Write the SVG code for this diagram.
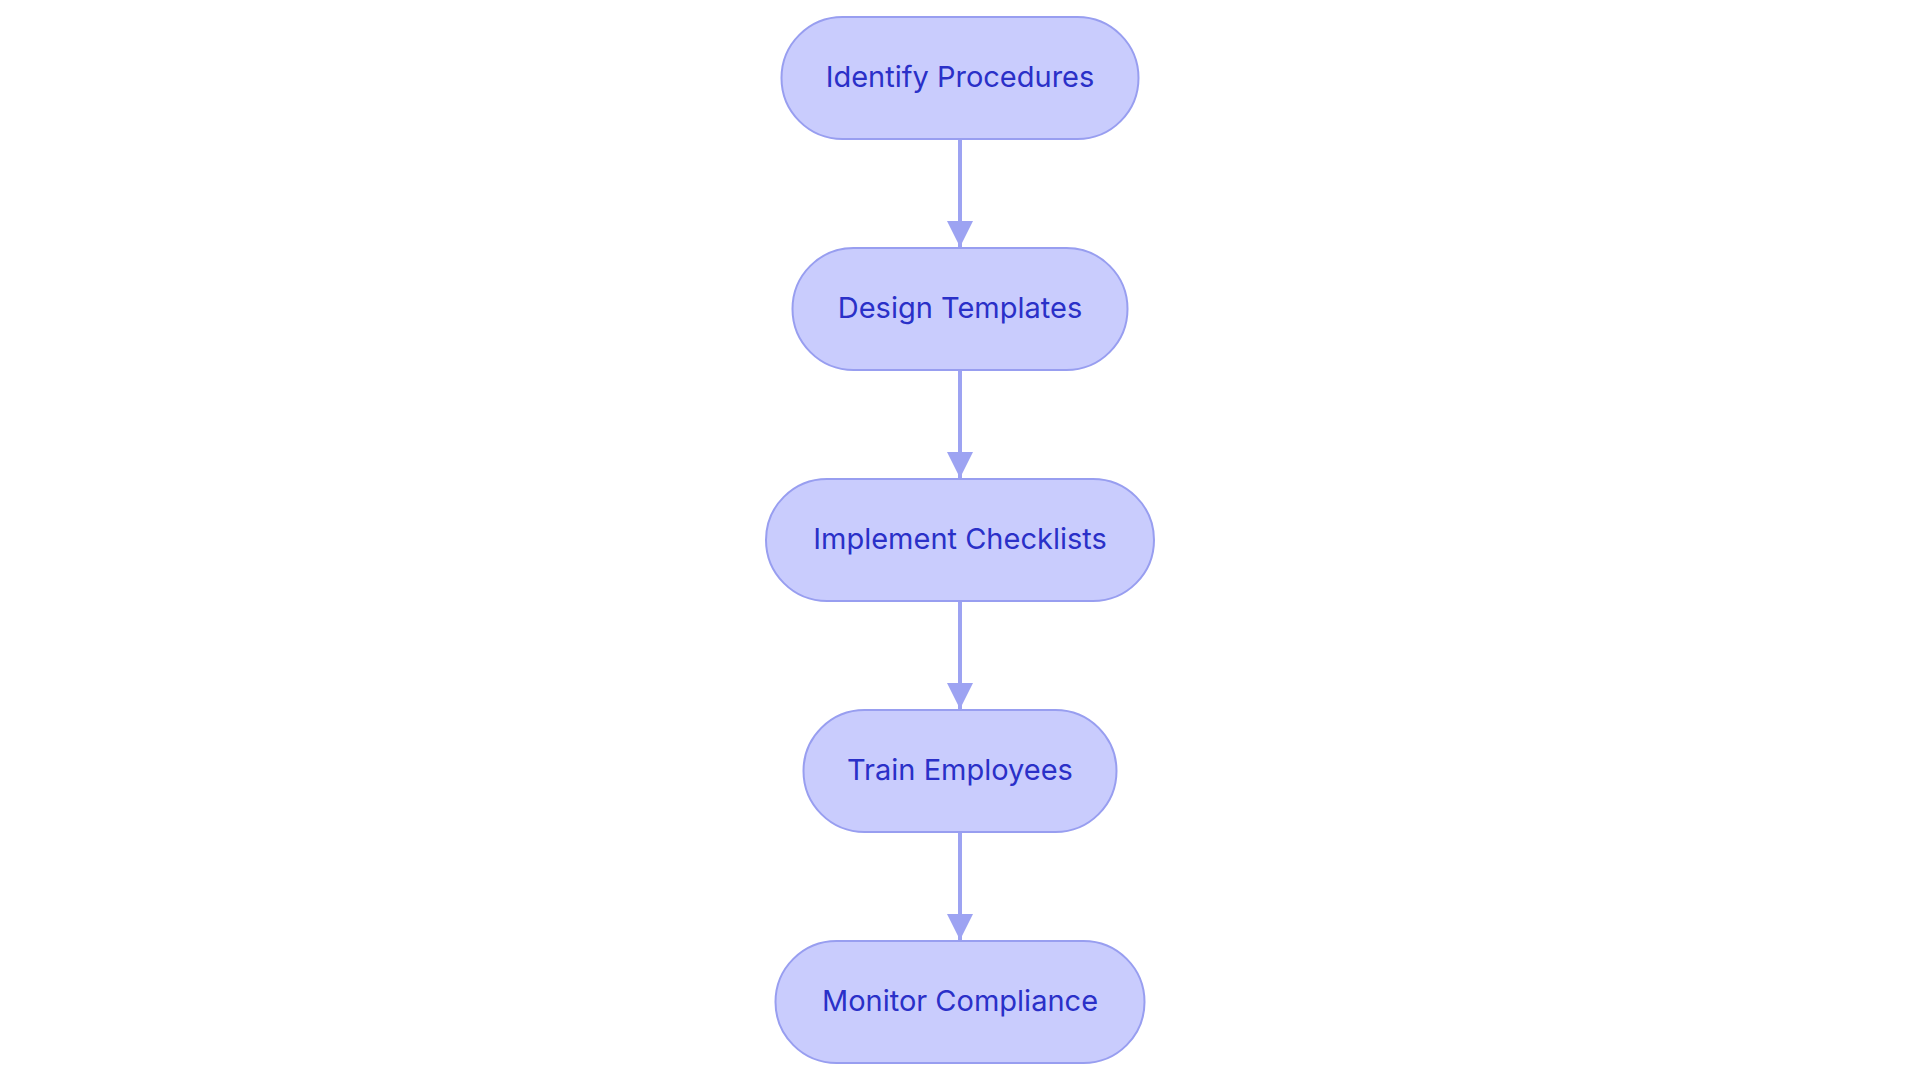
<svg xmlns="http://www.w3.org/2000/svg" width="1920" height="1083" viewBox="0 0 1920 1083">
<style>
.node rect{fill:#C9CCFD;stroke:#989EF0;stroke-width:2}
.node text{font-family:Inter,"Noto Sans","Liberation Sans",sans-serif;font-size:29px;fill:#2A30C8;text-anchor:middle}
.edge{stroke:#9DA3F2;stroke-width:4;fill:none}
</style>
<defs>
<marker id="arrow" markerUnits="userSpaceOnUse" markerWidth="26" markerHeight="26" refX="26" refY="13" orient="auto">
<path d="M0,0 L26,13 L0,26 Z" fill="#9DA3F2"/>
</marker>
</defs>
<rect width="1920" height="1083" fill="#FFFFFF"/>
<g id="connectors">
<line class="edge" x1="960" y1="139" x2="960" y2="247" marker-end="url(#arrow)"/>
<line class="edge" x1="960" y1="370" x2="960" y2="478" marker-end="url(#arrow)"/>
<line class="edge" x1="960" y1="601" x2="960" y2="709" marker-end="url(#arrow)"/>
<line class="edge" x1="960" y1="832" x2="960" y2="940" marker-end="url(#arrow)"/>
</g>
<g id="identify-procedures" class="node">
<rect x="781.5" y="17" width="357" height="122" rx="61" ry="61"/>
<text x="960" y="87">Identify Procedures</text>
</g>
<g id="design-templates" class="node">
<rect x="792.5" y="248" width="335" height="122" rx="61" ry="61"/>
<text x="960" y="318">Design Templates</text>
</g>
<g id="implement-checklists" class="node">
<rect x="766" y="479" width="388" height="122" rx="61" ry="61"/>
<text x="960" y="549">Implement Checklists</text>
</g>
<g id="train-employees" class="node">
<rect x="803.5" y="710" width="313" height="122" rx="61" ry="61"/>
<text x="960" y="780">Train Employees</text>
</g>
<g id="monitor-compliance" class="node">
<rect x="775.5" y="941" width="369" height="122" rx="61" ry="61"/>
<text x="960" y="1011">Monitor Compliance</text>
</g>
</svg>
